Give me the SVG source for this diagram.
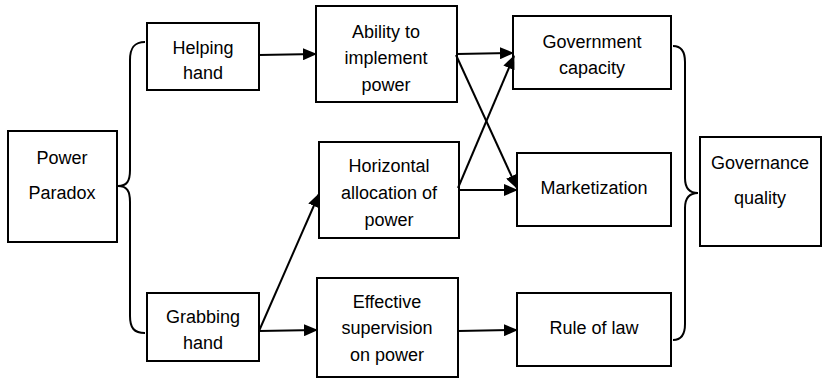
<svg xmlns="http://www.w3.org/2000/svg" width="824" height="379" viewBox="0 0 824 379">
<style>
.box{fill:#fff;stroke:#000;stroke-width:2}
text{font-family:"Liberation Sans",Arial,sans-serif;font-size:18px;fill:#000;text-anchor:middle;dominant-baseline:central}
.c{fill:none;stroke:#000;stroke-width:2}
</style>
<defs>
<marker id="ah" markerUnits="userSpaceOnUse" markerWidth="14" markerHeight="12" refX="13" refY="6" orient="auto">
<path d="M0,0 L14,6 L0,12 z" fill="#000"/>
</marker>
</defs>
<rect width="824" height="379" fill="#fff"/>
<g id="powerParadox"><rect class="box" x="8" y="131" width="109" height="111"/><text x="62" y="158">Power</text><text x="62" y="193">Paradox</text></g>
<g id="helpingHand"><rect class="box" x="147" y="23" width="112" height="67"/><text x="203" y="48">Helping</text><text x="203" y="73">hand</text></g>
<g id="grabbingHand"><rect class="box" x="147" y="293" width="112" height="68"/><text x="203" y="317">Grabbing</text><text x="203" y="343">hand</text></g>
<g id="ability"><rect class="box" x="316" y="6" width="141" height="96"/><text x="386" y="32">Ability to</text><text x="386" y="58">implement</text><text x="386" y="85">power</text></g>
<g id="horizontal"><rect class="box" x="319" y="142" width="140" height="96"/><text x="389" y="166">Horizontal</text><text x="389" y="193">allocation of</text><text x="389" y="220">power</text></g>
<g id="effective"><rect class="box" x="317" y="278" width="141" height="99"/><text x="387" y="302">Effective</text><text x="387" y="328">supervision</text><text x="387" y="355">on power</text></g>
<g id="govCapacity"><rect class="box" x="513" y="16" width="158" height="73"/><text x="592" y="42">Government</text><text x="592" y="68">capacity</text></g>
<g id="marketization"><rect class="box" x="517" y="153" width="154" height="73"/><text x="594" y="188">Marketization</text></g>
<g id="ruleOfLaw"><rect class="box" x="517" y="293" width="154" height="73"/><text x="594" y="328">Rule of law</text></g>
<g id="governance"><rect class="box" x="700" y="137" width="121" height="109"/><text x="760" y="163">Governance</text><text x="760" y="198">quality</text></g>
<g id="connectors">
<path class="c" d="M145,42 C134,42 130,48 130,60 L130,170 C130,181 127,186 118,186 C127,186 130,191 130,202 L130,316 C130,328 134,333 145,333"/>
<path class="c" d="M673,46 C682,46 685,52 685,62 L685,178 C685,188 689,193 698,193 C689,193 685,198 685,208 L685,324 C685,334 682,340 673,340"/>
<line class="c" x1="259" y1="55" x2="316" y2="54" marker-end="url(#ah)"/>
<line class="c" x1="457" y1="54" x2="513" y2="53" marker-end="url(#ah)"/>
<line class="c" x1="456" y1="55" x2="517" y2="188" marker-end="url(#ah)"/>
<line class="c" x1="458" y1="188" x2="514" y2="56" marker-end="url(#ah)"/>
<line class="c" x1="459" y1="190" x2="517" y2="190" marker-end="url(#ah)"/>
<line class="c" x1="259" y1="331" x2="319" y2="194" marker-end="url(#ah)"/>
<line class="c" x1="259" y1="331" x2="317" y2="330" marker-end="url(#ah)"/>
<line class="c" x1="458" y1="331" x2="517" y2="330" marker-end="url(#ah)"/>
</g>
</svg>
